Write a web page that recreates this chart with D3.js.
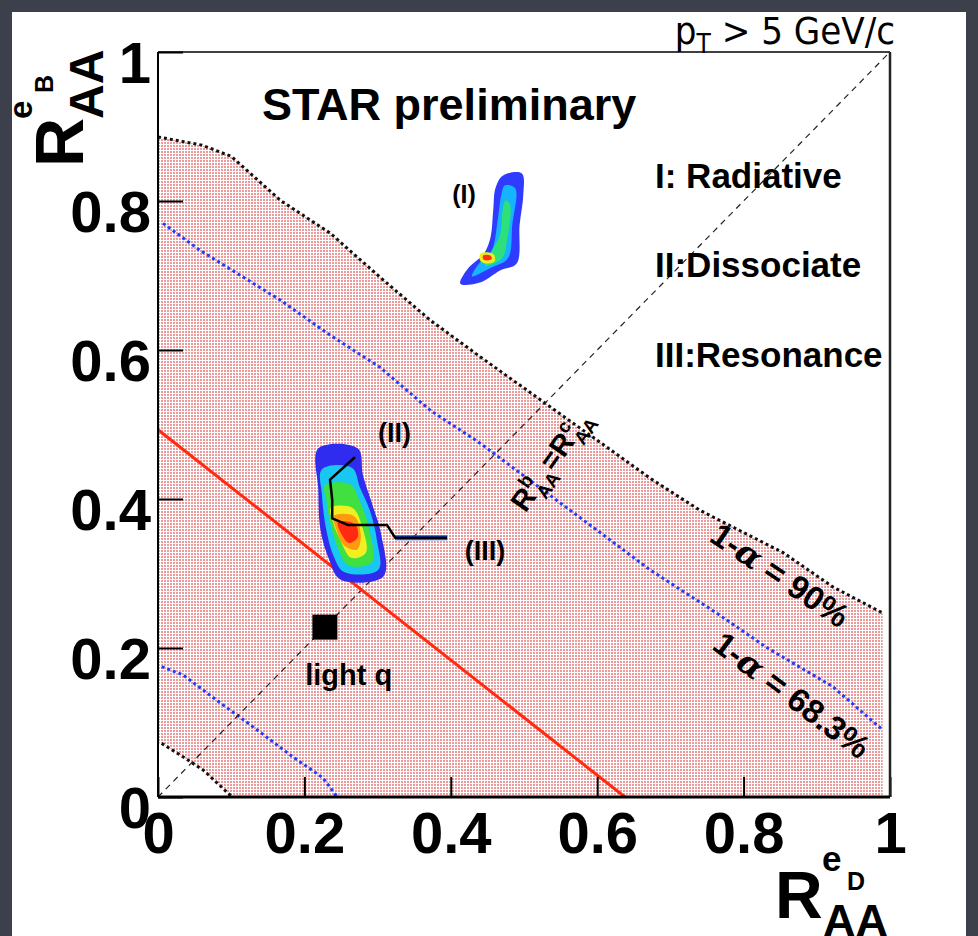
<!DOCTYPE html>
<head>
<meta charset="utf-8">
</head>
<style>
body { margin: 0; background: #3c404a; }
text { font-family: "Liberation Sans", Arial, sans-serif; fill: #000; }
.axis text { font-size: 58px; font-weight: bold; }
.axis path { display: none; }
.axis line { stroke: #000; stroke-width: 2; }
.bold { font-weight: bold; }
</style>
<body>
<svg id="chart" width="978" height="936"></svg>

<script src="https://d3js.org/d3.v7.min.js"></script>
<script>

// axis ticks
var xTicks = [0, 0.2, 0.4, 0.6, 0.8, 1],
    yTicks = [0, 0.2, 0.4, 0.6, 0.8, 1];

// confidence contours (x, y)
var upper90 = [[0,0.886],[0.06,0.875],[0.10,0.86],[0.167,0.801],[0.235,0.757],[0.303,0.698],[0.372,0.640],[0.44,0.591],[0.504,0.546],[0.604,0.476],[0.672,0.428],[0.74,0.385],[0.854,0.328],[0.922,0.282],[0.99,0.247]];
var upper68 = [[0.007,0.770],[0.057,0.734],[0.167,0.667],[0.235,0.620],[0.303,0.577],[0.372,0.519],[0.44,0.475],[0.504,0.428],[0.604,0.355],[0.672,0.305],[0.763,0.247],[0.831,0.201],[0.922,0.148],[0.99,0.090]];
var lower68 = [[0.005,0.175],[0.034,0.164],[0.08,0.130],[0.126,0.097],[0.184,0.054],[0.225,0.026],[0.245,0]];
var lower90 = [[0.005,0.072],[0.034,0.054],[0.062,0.036],[0.098,0.003],[0.102,0]];

// red line and light quark point
var redLine = [[0,0.493],[0.638,0]];
var lightQ = [0.228, 0.228];

// model (I) radiative - density levels
var blobIBlue = [[0.471,0.834],[0.497,0.837],[0.499,0.808],[0.494,0.768],[0.490,0.716],[0.468,0.707],[0.441,0.691],[0.413,0.689],[0.424,0.710],[0.445,0.729],[0.454,0.750],[0.458,0.788],[0.461,0.817]];
var blobICyan = [[0.474,0.821],[0.488,0.817],[0.484,0.768],[0.478,0.723],[0.454,0.710],[0.429,0.699],[0.437,0.714],[0.456,0.734],[0.464,0.774],[0.469,0.808]];
var blobIGreen = [[0.475,0.801],[0.481,0.795],[0.477,0.748],[0.470,0.723],[0.447,0.713],[0.454,0.729],[0.467,0.754],[0.471,0.789]];
var blobIYellow = [[0.441,0.730],[0.458,0.729],[0.460,0.719],[0.447,0.716],[0.440,0.720]];
var blobIRed = [[0.444,0.727],[0.454,0.727],[0.456,0.722],[0.445,0.721]];

// model (II) dissociate - density levels
var blobIIBlue = [[0.219,0.468],[0.273,0.468],[0.280,0.432],[0.293,0.392],[0.305,0.352],[0.308,0.296],[0.249,0.292],[0.234,0.318],[0.222,0.358],[0.219,0.412]];
var blobIICyan = [[0.224,0.440],[0.265,0.442],[0.276,0.415],[0.290,0.383],[0.299,0.345],[0.301,0.305],[0.254,0.302],[0.240,0.323],[0.230,0.358],[0.224,0.405]];
var blobIIGreen = [[0.228,0.418],[0.262,0.420],[0.276,0.396],[0.287,0.365],[0.292,0.315],[0.260,0.311],[0.246,0.334],[0.235,0.369],[0.230,0.399]];
var blobIIYellow = [[0.236,0.388],[0.266,0.388],[0.279,0.362],[0.284,0.328],[0.264,0.321],[0.249,0.345],[0.239,0.369]];
var blobIIOrange = [[0.240,0.377],[0.268,0.377],[0.277,0.353],[0.272,0.332],[0.254,0.338],[0.243,0.361]];
var blobIIRed = [[0.246,0.369],[0.269,0.366],[0.273,0.349],[0.261,0.341],[0.249,0.356]];

// model (III) resonance track
var trackIII = [[0.269,0.456],[0.235,0.426],[0.238,0.399],[0.238,0.374],[0.260,0.365],[0.313,0.365],[0.324,0.348],[0.395,0.348]];

var legendLines = ["I: Radiative", "II:Dissociate", "III:Resonance"];

var svg = d3.select("#chart"),
    margin = {top: 52, right: 88, bottom: 139, left: 158},
    width = +svg.attr("width") - margin.left - margin.right,
    height = +svg.attr("height") - margin.top - margin.bottom;

var x = d3.scaleLinear().domain([0, 1]).range([0, width]),
    y = d3.scaleLinear().domain([0, 1]).range([height, 0]);

// slide background
svg.append("rect").attr("width", 978).attr("height", 936).attr("fill", "#3c404a");
svg.append("rect").attr("x", 12).attr("y", 12).attr("width", 954).attr("height", 924).attr("fill", "#fff");

var defs = svg.append("defs");
var pat = defs.append("pattern")
    .attr("id", "dots")
    .attr("patternUnits", "userSpaceOnUse")
    .attr("width", 3).attr("height", 3);
pat.append("rect").attr("width", 3).attr("height", 3).attr("fill", "#fff");
pat.append("rect").attr("width", 2).attr("height", 2).attr("fill", "#ee9a9a");

var g = svg.append("g")
    .attr("transform", "translate(" + margin.left + "," + margin.top + ")");

var line = d3.line().x(function(d) { return x(d[0]); }).y(function(d) { return y(d[1]); });
var smooth = d3.line().x(function(d) { return x(d[0]); }).y(function(d) { return y(d[1]); })
    .curve(d3.curveCatmullRomClosed);

// shaded 90% region
var xEnd = upper90[upper90.length - 1][0];
var fillArea = [[0, upper90[0][1]]].concat(upper90, [[xEnd, 0]], lower90.slice().reverse(), [[0, lower90[0][1]]]);
g.append("path").attr("d", line(fillArea) + "Z").attr("fill", "url(#dots)");

// contours
[[upper90, "#111"], [lower90, "#111"], [upper68, "#1f3cff"], [lower68, "#1f3cff"]].forEach(function(c) {
  g.append("path").attr("d", line(c[0]))
    .attr("fill", "none").attr("stroke", c[1])
    .attr("stroke-width", 3).attr("stroke-dasharray", "3 3");
});

// diagonal R_b = R_c
g.append("path").attr("d", line([[0, 0], [1, 1]]))
  .attr("fill", "none").attr("stroke", "#222")
  .attr("stroke-width", 1.2).attr("stroke-dasharray", "6 5");

// red line
g.append("path").attr("d", line(redLine))
  .attr("fill", "none").attr("stroke", "#ff2a10").attr("stroke-width", 3);

// density blobs
[[blobIBlue, "#2f3cff"], [blobICyan, "#16b4ff"], [blobIGreen, "#2ee07a"], [blobIYellow, "#e8f020"], [blobIRed, "#ff3010"],
 [blobIIBlue, "#2f2cf0"], [blobIICyan, "#18c8f0"], [blobIIGreen, "#40e040"], [blobIIYellow, "#f0f020"], [blobIIOrange, "#ff9a10"], [blobIIRed, "#ff2a10"]]
  .forEach(function(b) {
    g.append("path").attr("d", smooth(b[0])).attr("fill", b[1]);
  });

// track (III)
var lastSeg = trackIII.slice(-2);
g.append("path").attr("d", line(lastSeg))
  .attr("fill", "none").attr("stroke", "#2050ff").attr("stroke-width", 5);
g.append("path").attr("d", line(trackIII))
  .attr("fill", "none").attr("stroke", "#000").attr("stroke-width", 2.5)
  .attr("stroke-linejoin", "round");

// light q marker
g.append("rect")
  .attr("x", x(lightQ[0]) - 12.5).attr("y", y(lightQ[1]) - 12.5)
  .attr("width", 25).attr("height", 25).attr("fill", "#000");

// in-plot labels
g.append("text").attr("class", "bold").attr("x", x(0.142)).attr("y", y(0.909))
  .style("font-size", "45px").text("STAR preliminary");
g.append("text").attr("class", "bold").attr("x", x(0.201)).attr("y", y(0.150))
  .style("font-size", "29px").text("light q");
g.append("text").attr("class", "bold").attr("x", x(0.402)).attr("y", y(0.797))
  .style("font-size", "25px").text("(I)");
g.append("text").attr("class", "bold").attr("x", x(0.3005)).attr("y", y(0.4765))
  .style("font-size", "27px").text("(II)");
g.append("text").attr("class", "bold").attr("x", x(0.419)).attr("y", y(0.318))
  .style("font-size", "27px").text("(III)");

var legendY = [0.817, 0.698, 0.577];
legendLines.forEach(function(t, i) {
  g.append("text").attr("class", "bold").attr("x", x(0.679)).attr("y", y(legendY[i]))
    .style("font-size", "35px").text(t);
});

// rotated confidence labels
function alphaLabel(cx, cy, angle, value) {
  var t = g.append("text")
    .attr("transform", "translate(" + x(cx) + "," + y(cy) + ") rotate(" + angle + ")")
    .attr("text-anchor", "middle").attr("dy", "0.35em")
    .style("font-size", "33px").style("font-weight", "600");
  t.append("tspan").text("1-");
  t.append("tspan").style("font-style", "italic").style("font-family", "'DejaVu Serif', serif").text("\u03b1");
  t.append("tspan").text(" = " + value);
}
alphaLabel(0.850, 0.298, 34, "90%");
alphaLabel(0.866, 0.137, 37, "68.3%");

var diag = g.append("text").attr("class", "bold")
  .attr("transform", "translate(" + x(0.536) + "," + y(0.452) + ") rotate(-55)")
  .attr("text-anchor", "middle").attr("dy", "0.35em")
  .style("font-size", "29px");
diag.append("tspan").text("R");
diag.append("tspan").attr("dy", -12).style("font-size", "19px").text("b");
diag.append("tspan").attr("dx", -10).attr("dy", 21).style("font-size", "19px").text("AA");
diag.append("tspan").attr("dy", -9).text("=R");
diag.append("tspan").attr("dy", -12).style("font-size", "19px").text("c");
diag.append("tspan").attr("dx", -10).attr("dy", 21).style("font-size", "19px").text("AA");

// axes
var xAxis = g.append("g")
    .attr("class", "axis")
    .attr("transform", "translate(0," + height + ")")
    .call(d3.axisBottom(x).tickValues(xTicks).tickSizeInner(-20).tickSizeOuter(0)
      .tickPadding(15).tickFormat(function(d) { return String(d); }));

var yAxis = g.append("g")
    .attr("class", "axis")
    .call(d3.axisLeft(y).tickValues(yTicks).tickSizeInner(-25).tickSizeOuter(0)
      .tickPadding(7).tickFormat(function(d) { return String(d); }));
yAxis.selectAll("text").attr("dy", "0.53em");

// frame
g.append("line").attr("x1", 0).attr("x2", width).attr("y1", 0).attr("y2", 0).attr("stroke", "#000").attr("stroke-width", 1.5);
g.append("line").attr("x1", 0).attr("x2", 0).attr("y1", 0).attr("y2", height).attr("stroke", "#000").attr("stroke-width", 2);
g.append("line").attr("x1", width).attr("x2", width).attr("y1", 0).attr("y2", height).attr("stroke", "#222").attr("stroke-width", 2.5);
g.append("line").attr("x1", 0).attr("x2", width).attr("y1", height).attr("y2", height).attr("stroke", "#000").attr("stroke-width", 3);

// axis titles
var yt = svg.append("g").attr("transform", "translate(83,167) rotate(-90)");
yt.append("text").attr("class", "bold").style("font-size", "68px").text("R");
yt.append("text").attr("class", "bold").attr("x", 48).attr("y", 20).style("font-size", "48px").text("AA");
yt.append("text").attr("class", "bold").attr("x", 48).attr("y", -51).style("font-size", "33px").text("e");
yt.append("text").attr("class", "bold").attr("x", 74).attr("y", -30).style("font-size", "25px").text("B");

var xt = svg.append("g").attr("transform", "translate(775,918)");
xt.append("text").attr("class", "bold").style("font-size", "66px").text("R");
xt.append("text").attr("class", "bold").attr("x", 48).attr("y", 18).style("font-size", "45px").text("AA");
xt.append("text").attr("class", "bold").attr("x", 47).attr("y", -47).style("font-size", "35px").text("e");
xt.append("text").attr("class", "bold").attr("x", 72).attr("y", -28).style("font-size", "25px").text("D");

// kinematic cut
var pt = svg.append("text").attr("x", 895).attr("y", 44).attr("text-anchor", "end")
  .style("font-size", "38px").style("font-family", "'DejaVu Sans', sans-serif")
  .style("font-stretch", "condensed");
pt.append("tspan").text("p");
pt.append("tspan").attr("dy", 9).style("font-size", "26px").text("T");
pt.append("tspan").attr("dy", -9).text(" > 5 GeV/c");

</script>
</body>
